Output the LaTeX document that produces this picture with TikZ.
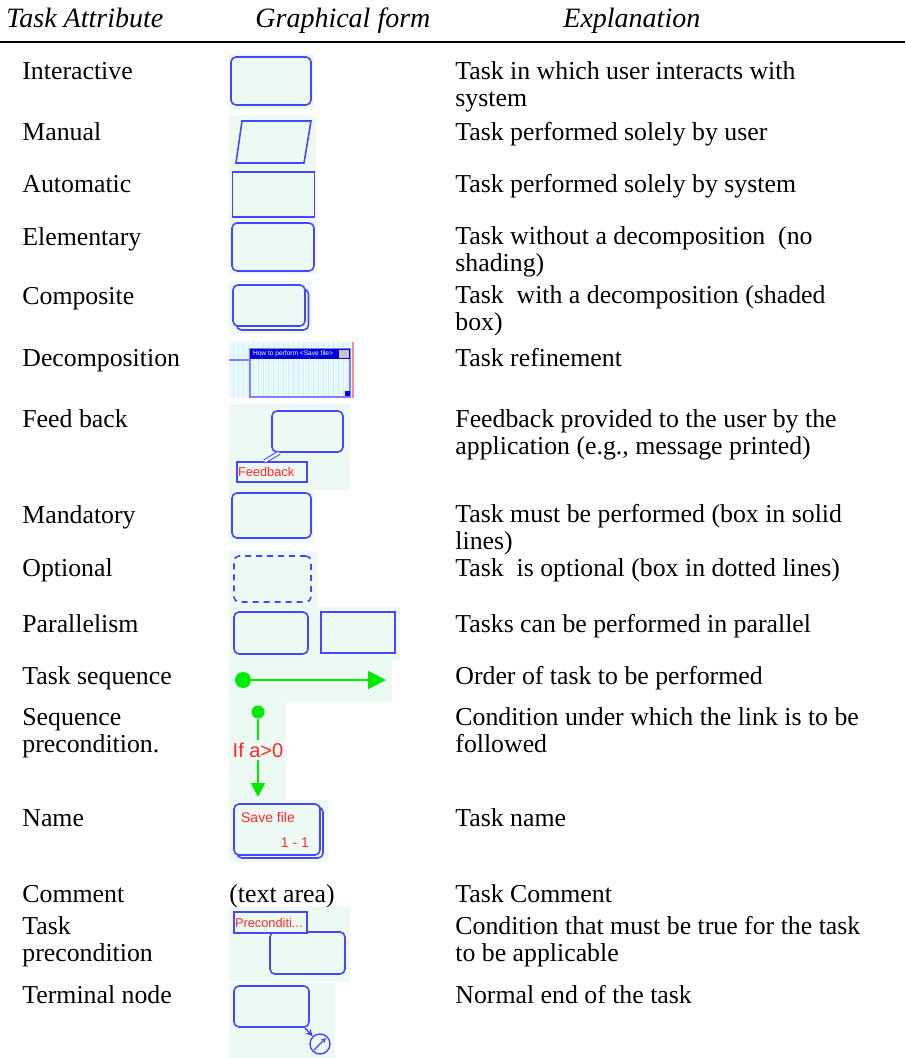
\documentclass[tikz,border=0pt]{standalone}
\usepackage{fontspec}
\setmainfont{Liberation Serif}
\newfontfamily\uifont{Liberation Sans}
\usetikzlibrary{arrows.meta, calc}
\definecolor{taskblue}{RGB}{70,70,255}
\definecolor{panelbg}{RGB}{237,250,244}
\definecolor{decobg}{RGB}{232,250,255}
\definecolor{decostripe}{RGB}{212,238,250}
\definecolor{linkgreen}{RGB}{0,235,0}
\definecolor{labelred}{RGB}{255,40,40}
\newcommand{\bodyfont}{\fontsize{12.9}{13.5}\selectfont}

\begin{document}
\begin{tikzpicture}[
  x=0.5pt, y=-0.5pt,
  attr/.style={anchor=base west, font=\bodyfont, align=left, inner sep=0pt},
  expl/.style={anchor=base west, font=\bodyfont, align=left, inner sep=0pt},
  hdr/.style={anchor=base west, font=\fontsize{14}{16}\selectfont\itshape, inner sep=0pt},
  task/.style={draw=taskblue, fill=panelbg, rounded corners=2.5pt, line width=0.8pt, inner sep=0pt},
  plainbox/.style={draw=taskblue, fill=panelbg, line width=0.8pt, inner sep=0pt},
  tag/.style={draw=taskblue, fill=panelbg, line width=0.7pt, inner ysep=0pt,
    font=\uifont\fontsize{6.4}{7}\selectfont, text=labelred, align=left},
  redlbl/.style={font=\uifont\fontsize{7}{8}\selectfont, text=labelred, inner sep=0pt},
  link/.style={draw=linkgreen, line width=1pt}
]
  \useasboundingbox (0,0) rectangle (905,1058);

  %% header
  \node[hdr] (hattr) at (6,28) {Task Attribute};
  \node[hdr] (hform) at (255,28) {Graphical form};
  \node[hdr] (hexpl) at (563,28) {Explanation};
  \draw[line width=1.2pt] (0,42) -- (905,42);

  %% panels behind the graphical forms
  \foreach \xa/\ya/\xb/\yb in {229/54/314/109, 229/115/316/166, 229/166/317/220,
      229/220/317/274, 229/281/312/334, 229/404/350/490, 229/490/314/543,
      229/551/318/609, 229/607/400/660, 229/660/392/702, 229/702/286/800,
      229/800/328/862, 229/907/350/982, 229/983/335/1058}
    \fill[panelbg] (\xa,\ya) rectangle (\xb,\yb);

  %% attribute column (base = last line)
  \node[attr] (ainter) at (22,80) {Interactive};
  \node[attr] (amanual) at (22,141) {Manual};
  \node[attr] (aauto) at (22,193) {Automatic};
  \node[attr] (aelem) at (22,246) {Elementary};
  \node[attr] (acomp) at (22,305) {Composite};
  \node[attr] (adecomp) at (22,367) {Decomposition};
  \node[attr] (afeed) at (22,428) {Feed back};
  \node[attr] (amand) at (22,523) {Mandatory};
  \node[attr] (aopt) at (22,576) {Optional};
  \node[attr] (apar) at (22,632) {Parallelism};
  \node[attr] (aseq) at (22,684) {Task sequence};
  \node[attr] (aseqpre) at (22,752) {Sequence\\precondition.};
  \node[attr] (aname) at (22,826) {Name};
  \node[attr] (acomm) at (22,902) {Comment};
  \node[attr] (apre) at (22,961) {Task\\precondition};
  \node[attr] (aterm) at (22,1003) {Terminal node};

  %% explanation column
  \node[expl] (einter) at (455,107) {Task in which user interacts with\\system};
  \node[expl] (emanual) at (455,141) {Task performed solely by user};
  \node[expl] (eauto) at (455,193) {Task performed solely by system};
  \node[expl] (eelem) at (455,272) {Task without a decomposition\ \ (no\\shading)};
  \node[expl] (ecomp) at (455,331) {Task\ \ with a decomposition (shaded\\box)};
  \node[expl] (edecomp) at (455,367) {Task refinement};
  \node[expl] (efeed) at (455,454) {Feedback provided to the user by the\\application (e.g., message printed)};
  \node[expl] (emand) at (455,549) {Task must be performed (box in solid\\lines)};
  \node[expl] (eopt) at (455,576) {Task\ \ is optional (box in dotted lines)};
  \node[expl] (epar) at (455,632) {Tasks can be performed in parallel};
  \node[expl] (eseq) at (455,684) {Order of task to be performed};
  \node[expl] (eseqpre) at (455,752) {Condition under which the link is to be\\followed};
  \node[expl] (ename) at (455,826) {Task name};
  \node[expl] (ecomm) at (455,902) {Task Comment};
  \node[expl] (epre) at (455,961) {Condition that must be true for the task\\to be applicable};
  \node[expl] (eterm) at (455,1003) {Normal end of the task};

  %% graphical forms
  \node[task, minimum width=40pt, minimum height=24pt] (interbox) at (271,81) {};
  \draw[taskblue, line width=0.8pt, fill=panelbg]
    (242,121) -- (311,121) -- (304,163) -- (236,163) -- cycle;
  \node[plainbox, minimum width=41pt, minimum height=22.5pt] (autobox) at (273.5,194.5) {};
  \node[task, minimum width=41pt, minimum height=24pt] (elembox) at (273,247) {};
  \node[task, minimum width=36pt, minimum height=20.5pt] (compback) at (272.5,309.5) {};
  \node[task, minimum width=36pt, minimum height=20.5pt] (compbox) at (269,305.5) {};

  % decomposition window
  \fill[decobg] (229,342) rectangle (352,398);
  \foreach \x in {233,238,...,350}
    \draw[decostripe, line width=0.4pt] (\x,342) -- (\x,398);
  \node[draw=taskblue!70, fill=none, line width=0.6pt, inner sep=0pt,
    minimum width=50pt, minimum height=24pt] (decwin) at (300,373) {};
  \fill[blue!85!black] (250,349) rectangle (350,359);
  \node[font=\uifont\fontsize{3.3}{4}\selectfont, text=white, inner sep=0pt]
    (dectitle) at (293,354) {How to perform <Save file>};
  \fill[gray!45] (339,350) rectangle (349,358);
  \fill[blue] (345,391) rectangle (350,396);
  \draw[taskblue!70, line width=0.6pt] (229,360) -- (decwin.west |- 0,360);
  \draw[red!45, line width=0.6pt] (353,342) -- (353,398);

  % feedback
  \node[task, minimum width=35.5pt, minimum height=20.5pt] (fbbox) at (307.5,431.5) {};
  \node[tag, text width=34pt, inner xsep=0.5pt, minimum height=10pt] (fblabel) at (272,472) {Feedback};
  \draw[taskblue, line width=0.5pt, double=panelbg, double distance=1.2pt] (fblabel.125) -- (fbbox.217);

  \node[task, minimum width=39.5pt, minimum height=22.5pt] (mandbox) at (271.5,515.5) {};
  \node[task, dashed, dash pattern=on 3pt off 2.5pt, minimum width=38.5pt, minimum height=23pt] (optbox) at (272.5,579) {};
  \node[task, minimum width=37pt, minimum height=21pt] (parbox) at (271,633) {};
  \node[plainbox, minimum width=37pt, minimum height=20.5pt] (parrect) at (358,632.5) {};

  % task sequence
  \node[circle, fill=linkgreen, minimum size=8pt, inner sep=0pt] (seqdot) at (243,680) {};
  \coordinate (seqend) at (386,680);
  \draw[link, -{Triangle[length=9pt, width=9pt]}] (seqdot) -- (seqend);

  % sequence precondition
  \node[circle, fill=linkgreen, minimum size=6.5pt, inner sep=0pt] (predot) at (258,712) {};
  \node[font=\uifont\fontsize{10}{11}\selectfont, text=labelred, inner sep=1pt] (ifa) at (258,750) {If a>0};
  \coordinate (preend) at (258,797);
  \draw[link] (predot) -- (ifa);
  \draw[link, -{Triangle[length=7pt, width=7pt]}] (ifa) -- (preend);

  % name
  \node[task, minimum width=43pt, minimum height=25.5pt] (nameback) at (280,832.5) {};
  \node[task, minimum width=43pt, minimum height=25.5pt] (namebox) at (277,829.5) {};
  \node[redlbl] (savefile) at (268,817) {Save file};
  \node[redlbl] (nameid) at (295,843) {1 - 1};

  % comment
  \node[expl] (textarea) at (229,902) {(text area)};

  % task precondition
  \node[task, minimum width=37.5pt, minimum height=21pt] (prebox) at (307.5,953) {};
  \node[tag, text width=35.5pt, inner xsep=0.5pt, minimum height=10.5pt] (prelabel) at (270.5,922.5) {Preconditi...};

  % terminal node
  \node[task, minimum width=37.5pt, minimum height=20.5pt] (termbox) at (271.5,1006.5) {};
  \node[circle, draw=taskblue, line width=0.7pt, minimum size=10pt, inner sep=0pt] (endc) at (320,1044) {};
  \draw[taskblue, line width=0.7pt, -{Stealth[length=3.5pt, width=3.5pt]}]
    ($(termbox.south east)+(-5,0)$) -- (endc);
  \draw[taskblue, line width=0.6pt, -{Stealth[length=2.5pt, width=2.5pt]}]
    ($(endc.center)+(-6,6)$) -- ($(endc.center)+(6,-6)$);
\end{tikzpicture}
\end{document}
